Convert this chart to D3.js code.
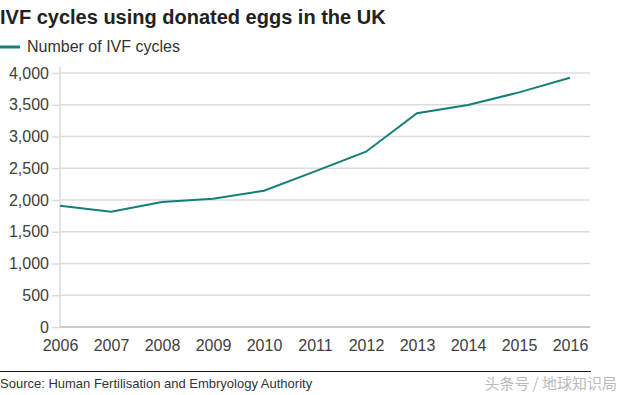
<!DOCTYPE html>
<html><head><meta charset="utf-8">
<script src="https://cdn.jsdelivr.net/npm/d3@7"></script>
<style>
body{margin:0;background:#fff;}
svg{display:block;font-family:"Liberation Sans",Arial,Helvetica,sans-serif;}
</style></head>
<body><svg id="c" width="624" height="395"></svg>
<script>
const years = [2006,2007,2008,2009,2010,2011,2012,2013,2014,2015,2016];
const cycles = [1910,1815,1970,2020,2145,2450,2760,3365,3495,3695,3925];
const yTicks = [0,500,1000,1500,2000,2500,3000,3500,4000];
const title = "IVF cycles using donated eggs in the UK";
const seriesName = "Number of IVF cycles";
const source = "Source: Human Fertilisation and Embryology Authority";
const watermark = "头条号 / 地球知识局";

const svg = d3.select("#c");
const color = "#138077";
const x = d3.scaleLinear().domain([2006,2016]).range([60,570]);
const y = d3.scaleLinear().domain([0,4000]).range([327,73]);

svg.append("text").attr("x",0).attr("y",24).attr("font-size",20).attr("font-weight","bold")
  .attr("fill","#222").text(title);

svg.append("line").attr("x1",0).attr("x2",20).attr("y1",47).attr("y2",47)
  .attr("stroke",color).attr("stroke-width",3);
svg.append("text").attr("x",27).attr("y",52).attr("font-size",16).attr("fill","#333").text(seriesName);

// gridlines
svg.append("g").selectAll("line").data(yTicks.filter(d=>d>0)).join("line")
  .attr("x1",60).attr("x2",590).attr("y1",d=>y(d)).attr("y2",d=>y(d))
  .attr("stroke","#dcdcdc").attr("stroke-width",1.5);

// y axis
const ya = svg.append("g").attr("transform","translate(60,0)")
  .call(d3.axisLeft(y).tickValues(yTicks).tickFormat(d3.format(",")).tickSize(8).tickPadding(3));
ya.select(".domain").attr("stroke","#dcdcdc").attr("stroke-width",1.5).attr("d","M0,67V327");
ya.selectAll(".tick line").attr("stroke","#dcdcdc").attr("stroke-width",1.5);
ya.selectAll(".tick text").attr("font-size",16).attr("fill","#404040")
  .attr("font-family","Liberation Sans, Arial, sans-serif");

// x axis
const xa = svg.append("g").attr("transform","translate(0,327)")
  .call(d3.axisBottom(x).tickValues(years).tickFormat(d3.format("d")).tickSize(0).tickPadding(13));
xa.select(".domain").attr("stroke","#999").attr("stroke-width",1).attr("d","M60,0H590");
xa.selectAll(".tick text").attr("font-size",16).attr("fill","#404040")
  .attr("font-family","Liberation Sans, Arial, sans-serif");

// line
svg.append("path").datum(years.map((d,i)=>[d,cycles[i]]))
  .attr("fill","none").attr("stroke",color).attr("stroke-width",2)
  .attr("d",d3.line().x(d=>x(d[0])).y(d=>y(d[1])));

// source
svg.append("line").attr("x1",0).attr("x2",591).attr("y1",371.5).attr("y2",371.5)
  .attr("stroke","#111").attr("stroke-width",1);
svg.append("text").attr("x",0).attr("y",388).attr("font-size",13).attr("fill","#333").text(source);
svg.append("text").attr("x",617).attr("y",389).attr("text-anchor","end").attr("font-size",15)
  .attr("fill","#bbb").attr("font-family","Noto Sans CJK SC").text(watermark);
</script></body></html>
